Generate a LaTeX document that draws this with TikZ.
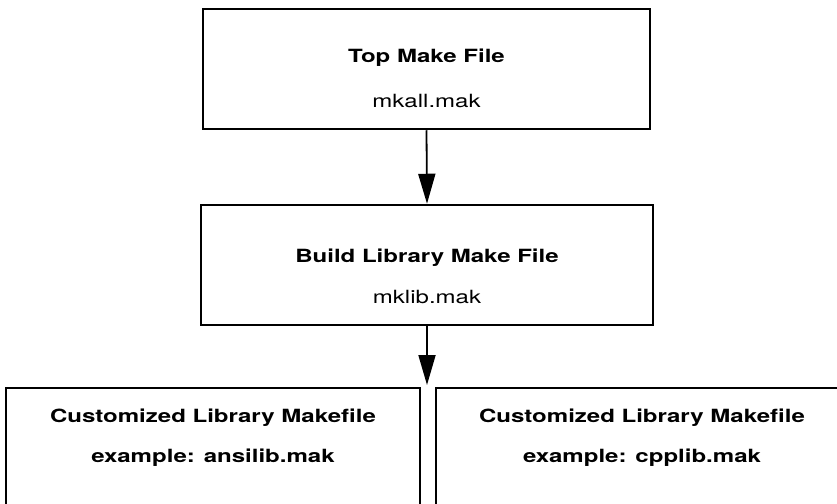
\documentclass[tikz,border=0pt]{standalone}
\usepackage{fontspec}
\setmainfont{TeX Gyre Heros}[FakeStretch=1.32]
\usetikzlibrary{arrows.meta,positioning,calc}

\tikzset{
  filebox/.style={draw, line width=2.5pt, rectangle, inner sep=0pt},
  flow/.style={line width=1.8pt, -{Triangle[length=30pt,width=17pt]}},
  headtxt/.style={font=\fontsize{18.2}{20}\selectfont\bfseries, anchor=base, inner sep=0pt},
  subtxt/.style={font=\fontsize{18.2}{20}\selectfont, anchor=base, inner sep=0pt}
}

\begin{document}
\begin{tikzpicture}[x=1pt,y=1pt]
        \clip (0,0) rectangle (837,-503);

        % Top make file
        \node[filebox, minimum width=447pt, minimum height=120pt] (top) at (426.5,-69) {};
        \node[headtxt] (toph) at (426.5,-63) {Top Make File};
        \node[subtxt] (tops) at (426.5,-107) {mkall.mak};

        % Build library make file
        \node[filebox, minimum width=452pt, minimum height=120pt] (build) at (427,-265) {};
        \node[headtxt] (buildh) at (427,-262) {Build Library Make File};
        \node[subtxt] (builds) at (427,-303) {mklib.mak};

        % Customized makefiles (cut off at the bottom)
        \node[filebox, minimum width=414pt, minimum height=142pt] (ansi) at (213,-459) {};
        \node[headtxt] (ansih) at (213,-422) {Customized Library Makefile};
        \node[headtxt] (ansis) at (213,-462) {example: ansilib.mak};

        \node[filebox, minimum width=412pt, minimum height=142pt] (cpp) at (642,-459) {};
        \node[headtxt] (cpph) at (642,-422) {Customized Library Makefile};
        \node[headtxt] (cpps) at (642,-462) {example: cpplib.mak};

        % Arrows
        \coordinate (gap) at (427,-385);
        \draw[flow] (top.south) -- (build.north);
        \draw[flow] (build.south) -- (build.south |- gap);

    \end{tikzpicture}
\end{document}
